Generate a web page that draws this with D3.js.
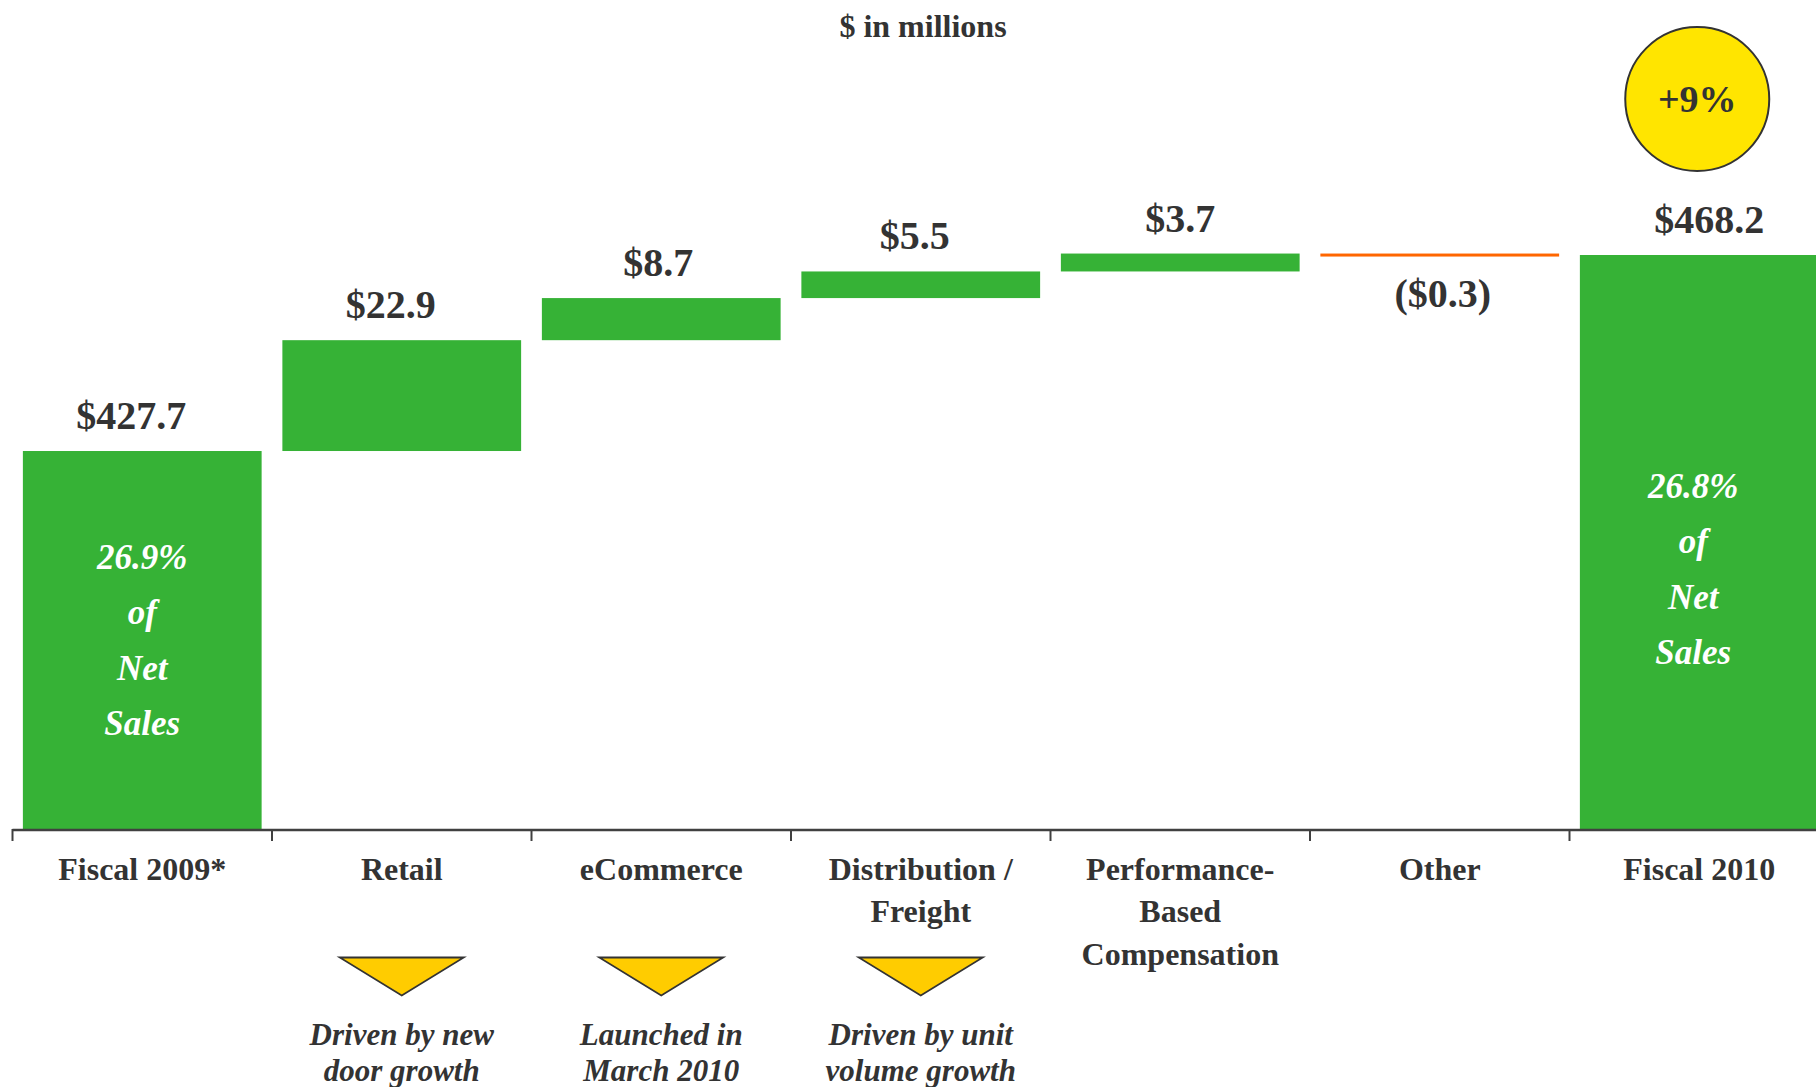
<!DOCTYPE html>
<html>
<head>
<meta charset="utf-8">
<script src="https://cdn.jsdelivr.net/npm/d3@7"></script>
<style>
  html, body { margin: 0; padding: 0; background: #fff; }
  svg { display: block; }
  text { font-family: "Liberation Serif", "Times New Roman", serif; font-weight: bold; }
</style>
</head>
<body>
<div id="chart"></div>
<script>
"use strict";

// Operating-income bridge, fiscal 2009 -> fiscal 2010 ($ in millions)
const categories = ["Fiscal 2009*", "Retail", "eCommerce", "Distribution / Freight",
                    "Performance-Based Compensation", "Other", "Fiscal 2010"];
const categoryLines = [["Fiscal 2009*"], ["Retail"], ["eCommerce"], ["Distribution /", "Freight"],
                       ["Performance-", "Based", "Compensation"], ["Other"], ["Fiscal 2010"]];
const values = [427.7, 22.9, 8.7, 5.5, 3.7, -0.3, 468.2];
const kinds = ["total", "delta", "delta", "delta", "delta", "delta", "total"];
const valueLabels = ["$427.7", "$22.9", "$8.7", "$5.5", "$3.7", "($0.3)", "$468.2"];
const barNotes = [["26.9%", "of", "Net", "Sales"], null, null, null, null, null, ["26.8%", "of", "Net", "Sales"]];
const drivers = [null, ["Driven by new", "door growth"], ["Launched in", "March 2010"],
                 ["Driven by unit", "volume growth"], null, null, null];
const growthBadge = "+9%";
const unitsTitle = "$ in millions";

const W = 1816, H = 1087;
const GREEN = "#36b236", ORANGE = "#ff6600", INK = "#333333";

// small horizontal nudges of the value labels, as placed on the slide
const labelNudge = [-11, -11, -3, -6, 0, 3, 10];

// waterfall start / end per step
let run = 0;
const steps = values.map((v, i) => {
  let lo, hi;
  if (kinds[i] === "total") { lo = null; hi = v; run = v; }
  else { const s = run; run += v; lo = Math.min(s, run); hi = Math.max(s, run); }
  return { cat: categories[i], v, kind: kinds[i], lo, hi, i };
});

const axisY = 829;
const x = d3.scaleBand().domain(categories).range([12.5, 12.5 + 259.5 * 7])
  .paddingInner(0.08).paddingOuter(0.04);
// value axis is broken: the baseline sits near $349.6M
const y = d3.scaleLinear().domain([349.6, 468.2]).range([axisY, 255]);

const svg = d3.select("#chart").append("svg")
  .attr("width", W).attr("height", H);

// title
svg.append("text").attr("x", 923).attr("y", 37)
  .attr("text-anchor", "middle").attr("font-size", 32).attr("fill", INK)
  .text(unitsTitle);

// bars
steps.forEach((d) => {
  const bx = x(d.cat), bw = x.bandwidth();
  const top = y(d.hi);
  const bot = d.lo === null ? axisY : y(d.lo);
  const neg = d.kind === "delta" && d.v < 0;
  svg.append("rect").attr("x", bx).attr("y", top).attr("width", bw)
    .attr("height", neg ? Math.max(3, bot - top) : bot - top)
    .attr("fill", neg ? ORANGE : GREEN);

  const cx = bx + bw / 2;
  svg.append("text")
    .attr("x", cx + labelNudge[d.i])
    .attr("y", neg ? bot + 52 : top - 22)
    .attr("text-anchor", "middle").attr("font-size", 40).attr("fill", INK)
    .text(valueLabels[d.i]);

  // "% of Net Sales" inside total bars
  const note = barNotes[d.i];
  if (note) {
    const lineH = 55.6;
    const mid = d.i === 0 ? (top + bot) / 2 : (top + bot) / 2 + 27;
    const first = mid - lineH * (note.length - 1) / 2 + 12;
    note.forEach((t, k) => {
      svg.append("text")
        .attr("x", cx + (d.i === 0 ? 0 : -6)).attr("y", first + k * lineH)
        .attr("text-anchor", "middle").attr("font-size", 35)
        .attr("font-style", "italic").attr("fill", "#fff")
        .text(t);
    });
  }
});

// axis
const x0 = x.range()[0], step = x.step();
svg.append("line").attr("x1", x0).attr("x2", W).attr("y1", axisY + 1).attr("y2", axisY + 1)
  .attr("stroke", "#404040").attr("stroke-width", 2.5);
categories.forEach((c, i) => {
  const tx = x0 + i * step;
  svg.append("line").attr("x1", tx).attr("x2", tx).attr("y1", axisY).attr("y2", axisY + 12)
    .attr("stroke", "#404040").attr("stroke-width", 2);
});

// category labels
categories.forEach((c, i) => {
  const cx = x(c) + x.bandwidth() / 2;
  const t = svg.append("text").attr("x", cx).attr("y", 880)
    .attr("text-anchor", "middle").attr("font-size", 32).attr("fill", INK);
  categoryLines[i].forEach((ln, k) => {
    t.append("tspan").attr("x", cx).attr("y", 880 + k * 42.3).text(ln);
  });
});

// driver callouts: triangle + italic note
drivers.forEach((lines, i) => {
  if (!lines) return;
  const cx = x(categories[i]) + x.bandwidth() / 2;
  svg.append("path")
    .attr("d", `M${cx - 62},957.5 L${cx + 62},957.5 L${cx},995.5 Z`)
    .attr("fill", "#ffcc00").attr("stroke", INK).attr("stroke-width", 1.8);
  lines.forEach((ln, k) => {
    svg.append("text").attr("x", cx).attr("y", 1045 + k * 36)
      .attr("text-anchor", "middle").attr("font-size", 31)
      .attr("font-style", "italic").attr("fill", INK)
      .text(ln);
  });
});

// growth badge over final bar
const last = categories[categories.length - 1];
const bcx = x(last) + x.bandwidth() / 2 - 2;
svg.append("circle").attr("cx", bcx).attr("cy", 99).attr("r", 72)
  .attr("fill", "#ffe500").attr("stroke", INK).attr("stroke-width", 2);
svg.append("text").attr("x", bcx).attr("y", 112)
  .attr("text-anchor", "middle").attr("font-size", 38).attr("fill", INK)
  .text(growthBadge);
</script>
</body>
</html>
